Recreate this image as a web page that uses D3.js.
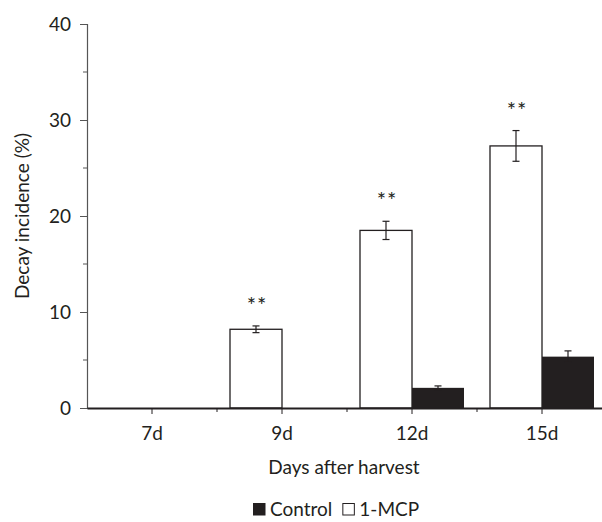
<!DOCTYPE html>
<html>
<head>
<meta charset="utf-8">
<script src="https://cdn.jsdelivr.net/npm/d3@7"></script>
<style>
  body { margin: 0; background: #fff; }
  text { font-family: Lato, "Open Sans", sans-serif; fill: #231f20; }
</style>
</head>
<body>
<div id="chart"></div>
<script>
// Data
const days = ["7d", "9d", "12d", "15d"];
const mcpValues = [0, 8.2, 18.5, 27.3];
const mcpErrors = [0, 0.35, 0.95, 1.6];
const controlValues = [0, 0, 2.1, 5.35];
const controlErrors = [0, 0, 0.2, 0.6];
const significance = ["", "**", "**", "**"];
const yTicks = [0, 10, 20, 30, 40];

const margin = { top: 24, right: 0, bottom: 114, left: 87 };
const width = 602 - margin.left - margin.right;
const height = 522 - margin.top - margin.bottom;
const fontSize = "19px";

const svg = d3.select("#chart")
    .append("svg")
    .attr("width", 602)
    .attr("height", 522)
    .append("g")
    .attr("transform", "translate(" + margin.left + "," + margin.top + ")");

// Scales
const x0 = d3.scaleBand()
    .domain(days)
    .range([0, 520])
    .padding(0);

const x1 = d3.scaleBand()
    .domain(["1-MCP", "Control"])
    .range([0, x0.bandwidth()])
    .paddingOuter(0.25)
    .paddingInner(0);

const y = d3.scaleLinear()
    .domain([0, 40])
    .range([height, 0]);

// Y axis
const yAxis = svg.append("g")
    .call(d3.axisLeft(y).tickValues(yTicks).tickSize(7).tickPadding(9));
yAxis.select(".domain").attr("stroke", "#555").attr("stroke-width", 1.2);
yAxis.selectAll(".tick line").attr("stroke", "#555");
yAxis.selectAll(".tick text").style("font-size", fontSize).attr("fill", "#231f20");

// minor y ticks
svg.selectAll(".ytick-minor")
    .data([5, 15, 25, 35])
    .enter()
    .append("line")
    .attr("x1", -4)
    .attr("x2", 0)
    .attr("y1", d => y(d))
    .attr("y2", d => y(d))
    .attr("stroke", "#555");

// Bars: 1-MCP (white) and Control (black)
const groups = svg.selectAll(".day")
    .data(days)
    .enter()
    .append("g")
    .attr("transform", d => `translate(${x0(d)},0)`);

groups.append("rect")
    .attr("x", x1("1-MCP"))
    .attr("y", (d, i) => y(mcpValues[i]))
    .attr("width", x1.bandwidth())
    .attr("height", (d, i) => height - y(mcpValues[i]))
    .attr("fill", "#fff")
    .attr("stroke", (d, i) => mcpValues[i] > 0 ? "#231f20" : "none")
    .attr("stroke-width", 1.3);

groups.append("rect")
    .attr("x", x1("Control"))
    .attr("y", (d, i) => y(controlValues[i]))
    .attr("width", x1.bandwidth())
    .attr("height", (d, i) => height - y(controlValues[i]))
    .attr("fill", "#231f20");

// Error bars
function errorBar(g, cx, val, err, color) {
    if (val <= 0) return;
    g.append("line")
        .attr("x1", cx).attr("x2", cx)
        .attr("y1", y(val + err)).attr("y2", y(val - err))
        .attr("stroke", color).attr("stroke-width", 1.2);
    [val + err, val - err].forEach(v => {
        g.append("line")
            .attr("x1", cx - 3.5).attr("x2", cx + 3.5)
            .attr("y1", y(v)).attr("y2", y(v))
            .attr("stroke", color).attr("stroke-width", 1.2);
    });
}

groups.each(function(d, i) {
    const g = d3.select(this);
    errorBar(g, x1("1-MCP") + x1.bandwidth() / 2, mcpValues[i], mcpErrors[i], "#231f20");
    errorBar(g, x1("Control") + x1.bandwidth() / 2, controlValues[i], controlErrors[i], "#231f20");
    if (significance[i]) {
        g.append("text")
            .attr("x", x1("1-MCP") + x1.bandwidth() / 2 + 1)
            .attr("y", y(mcpValues[i] + mcpErrors[i]) - 13)
            .attr("text-anchor", "middle")
            .style("font-size", "22px")
            .style("letter-spacing", "1px")
            .text(significance[i]);
    }
});

// X axis
const xAxis = svg.append("g")
    .attr("transform", "translate(0," + height + ")")
    .call(d3.axisBottom(x0).tickSize(6).tickPadding(13).tickSizeOuter(0));
xAxis.select(".domain").attr("stroke", "#231f20").attr("stroke-width", 2.2);
xAxis.selectAll(".tick line").attr("stroke", "#231f20");
xAxis.selectAll(".tick text").style("font-size", fontSize).attr("fill", "#231f20");

// minor x ticks at category boundaries
svg.selectAll(".xtick-minor")
    .data(days.slice(1))
    .enter()
    .append("line")
    .attr("x1", d => x0(d))
    .attr("x2", d => x0(d))
    .attr("y1", height)
    .attr("y2", height + 4)
    .attr("stroke", "#231f20");

// Axis labels
svg.append("text")
    .attr("x", 257)
    .attr("y", height + 66)
    .attr("text-anchor", "middle")
    .style("font-size", fontSize)
    .text("Days after harvest");

svg.append("text")
    .attr("transform", "rotate(-90)")
    .attr("x", -height / 2)
    .attr("y", -58)
    .attr("text-anchor", "middle")
    .style("font-size", fontSize)
    .text("Decay incidence (%)");

// Legend
const legendItems = [
    { label: "Control", fill: "#231f20" },
    { label: "1-MCP", fill: "#fff" }
];
const legend = svg.append("g")
    .attr("transform", `translate(${253 - margin.left}, ${503 - margin.top})`);
let lx = 0;
legendItems.forEach(item => {
    legend.append("rect")
        .attr("x", lx + 0.5)
        .attr("y", 0.5)
        .attr("width", 11.5)
        .attr("height", 11.5)
        .attr("fill", item.fill)
        .attr("stroke", "#231f20")
        .attr("stroke-width", 1);
    const t = legend.append("text")
        .attr("x", lx + 17)
        .attr("y", 13)
        .style("font-size", fontSize)
        .text(item.label);
    lx += 17 + t.node().getComputedTextLength() + 10;
});
</script>
</body>
</html>
